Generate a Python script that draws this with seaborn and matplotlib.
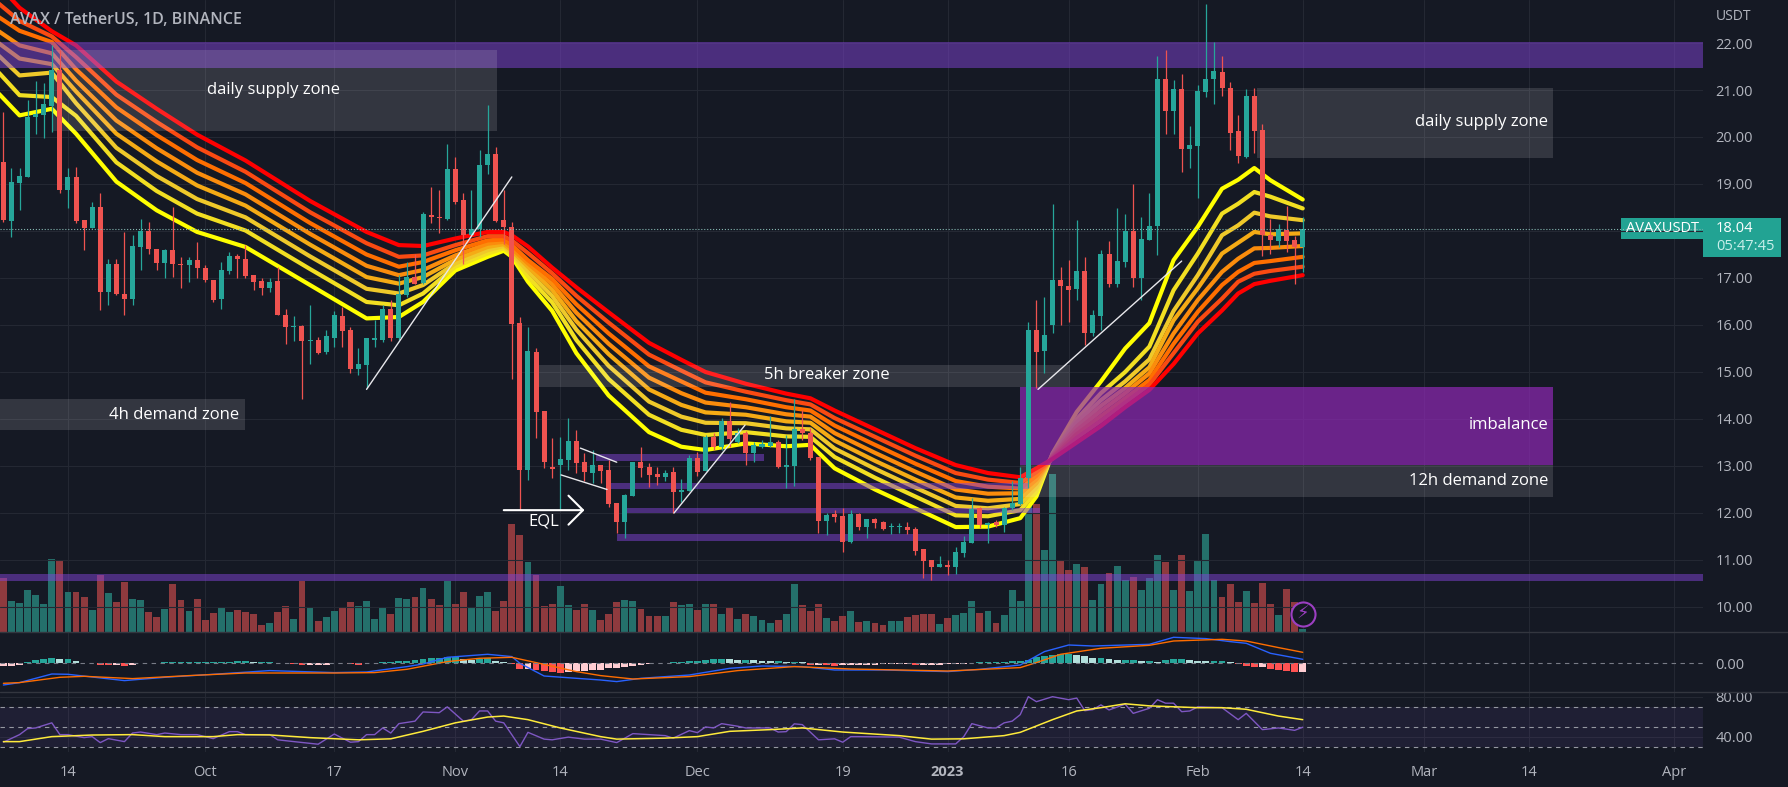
#!/usr/bin/env python3
import numpy as np
import pandas as pd
import matplotlib
matplotlib.use('Agg')
import matplotlib.pyplot as plt
from matplotlib.lines import Line2D
from matplotlib.patches import Rectangle
import seaborn as sns

BG = '#151924'
GRID = '#242833'
TXT = '#B2B5BE'
UP = '#26A69A'
DOWN = '#EF5350'

# candles, one per day from 6 Sep 2022
opens = [19.47,18.22,19.02,19.15,20.43,20.46,20.67,21.42,18.87,19.14,
         18.23,18.06,18.5,16.7,17.29,16.67,16.55,17.67,18.0,17.62,
         17.32,17.59,17.3,17.27,17.38,17.21,16.96,16.55,17.15,17.47,
         17.41,17.06,16.93,16.79,16.93,16.22,15.95,15.98,15.66,15.69,
         15.43,15.73,16.19,15.89,15.06,15.14,15.69,15.69,16.35,15.73,
         16.63,17.02,16.9,18.35,18.3,18.26,19.31,18.65,17.91,18.05,
         19.4,19.63,18.24,18.09,16.05,12.91,15.43,14.16,12.98,13.02,
         13.13,13.53,13.09,12.86,13.02,12.91,12.21,11.81,12.37,13.09,
         12.97,12.83,12.76,12.88,12.45,12.47,13.16,12.9,13.61,13.41,
         13.96,13.52,13.7,13.27,13.41,13.42,13.52,12.98,13.0,13.79,
         13.71,13.19,11.83,11.98,11.94,11.38,11.98,11.71,11.87,11.81,
         11.71,11.7,11.71,11.66,11.23,11.0,10.86,10.89,10.86,11.15,
         11.37,12.11,11.74,11.81,11.74,12.11,12.19,12.74,15.89,15.44,
         15.99,16.96,16.82,16.76,17.15,15.84,16.2,17.51,16.87,17.34,
         17.99,17.0,17.8,18.1,21.23,20.55,21.02,19.75,19.8,20.96,
         21.23,21.39,21.05,20.12,19.58,20.87,20.14,17.92,17.79,18.03,
         17.8,17.65]
highs = [20.53,19.33,19.33,20.78,21.2,21.14,21.95,21.85,19.33,19.36,
         18.23,18.62,18.8,17.41,17.41,17.97,17.91,18.26,18.19,17.62,
         17.62,18.51,17.45,17.45,17.77,17.27,16.96,17.34,17.55,17.52,
         17.7,17.06,16.99,16.99,17.24,16.35,16.19,16.0,16.42,15.75,
         15.89,16.3,16.38,15.96,15.5,15.72,16.1,16.42,16.53,17.06,
         17.34,17.52,18.41,18.94,18.87,19.86,19.58,18.8,18.88,19.72,
         20.68,19.79,18.87,18.19,16.18,15.96,15.51,14.16,13.6,13.61,
         14.02,13.77,13.27,13.34,13.02,13.13,12.21,12.4,13.09,13.41,
         13.06,12.98,12.91,12.98,12.72,13.23,13.3,13.66,13.7,14.02,
         14.37,13.8,13.74,13.52,13.55,14.06,13.55,13.66,14.43,14.19,
         13.81,13.19,12.0,12.06,12.11,12.06,12.0,11.87,11.9,11.84,
         11.79,11.79,11.81,11.71,11.23,11.0,11.09,11.0,11.28,11.51,
         12.32,12.13,11.81,11.85,12.13,12.67,12.98,16.07,16.53,16.6,
         18.58,17.24,17.38,18.23,17.45,16.32,17.59,17.79,18.48,18.36,
         18.99,18.3,18.81,21.72,21.86,21.21,21.34,20.23,21.1,22.82,
         22.02,21.72,21.17,20.46,21.03,21.05,20.27,18.26,18.14,18.53,
         17.9,18.3]
lows = [18.2,17.87,18.44,19.15,20.07,19.97,20.1,18.8,18.48,18.16,
        17.59,18.06,16.31,16.42,16.63,16.21,16.42,17.17,17.52,17.17,
        16.99,17.02,16.78,16.92,16.99,16.92,16.49,16.35,17.09,16.99,
        16.99,16.74,16.63,16.7,16.21,15.6,15.67,14.43,15.18,15.39,
        15.39,15.53,15.53,14.97,14.93,14.65,15.53,15.64,15.67,15.69,
        16.6,16.87,16.88,18.16,17.95,18.23,18.58,17.3,17.91,17.87,
        19.22,18.19,17.73,14.86,12.06,12.7,13.6,12.95,12.74,12.06,
        12.91,12.85,12.67,12.64,12.63,12.13,11.57,11.46,12.37,12.77,
        12.56,12.6,12.67,12.0,12.24,12.47,12.79,12.9,13.34,13.34,
        13.41,13.49,13.02,13.09,13.38,13.41,12.95,12.53,12.57,13.55,
        13.13,11.58,11.53,11.81,11.18,11.36,11.64,11.47,11.68,11.64,
        11.55,11.57,11.55,11.1,10.62,10.57,10.86,10.68,10.7,11.06,
        11.36,11.68,11.36,11.71,11.6,12.06,12.17,12.53,14.65,14.97,
        15.82,16.0,16.07,16.53,15.57,15.77,15.89,16.8,16.81,17.24,
        16.8,16.53,17.8,17.48,20.06,20.07,19.26,19.34,18.71,20.85,
        20.71,20.87,19.73,19.45,19.56,19.65,17.46,17.52,17.66,17.56,
        16.88,17.13]
closes = [18.23,19.04,19.16,20.43,20.5,20.71,21.42,18.87,19.14,18.22,
          18.06,18.5,16.7,17.29,16.67,16.55,17.69,18.0,17.61,17.32,
          17.59,17.29,17.27,17.38,17.21,16.95,16.53,17.16,17.46,17.41,
          17.04,16.92,16.79,16.92,16.21,15.96,15.98,15.66,15.69,15.41,
          15.76,16.21,15.87,15.06,15.16,15.72,15.72,16.35,15.73,16.65,
          17.02,16.88,18.37,18.29,18.27,19.31,18.62,17.91,18.05,19.4,
          19.63,18.22,18.09,16.03,12.91,15.45,14.14,13.09,12.94,13.14,
          13.53,13.07,12.88,13.02,12.89,12.19,11.81,12.38,13.09,12.95,
          12.81,12.76,12.86,12.45,12.49,13.17,12.88,13.61,13.41,13.96,
          13.57,13.7,13.27,13.44,13.47,13.5,12.97,13.02,13.79,13.7,
          13.17,11.83,11.96,11.92,11.38,11.98,11.7,11.87,11.79,11.66,
          11.72,11.72,11.64,11.19,10.98,10.86,10.91,10.86,11.17,11.39,
          12.09,11.74,11.79,11.74,12.11,12.21,12.74,15.89,15.43,15.79,
          16.96,16.82,16.74,17.15,15.84,16.21,17.51,16.88,17.36,17.99,
          17.0,17.82,18.1,21.23,20.55,21.02,19.75,19.83,20.98,21.24,
          21.4,21.05,20.09,19.6,20.87,20.13,17.92,17.8,18.04,17.79,
          17.66,18.04]
volumes = [54,31,29,42,37,28,73,71,40,40,
           35,22,57,39,30,50,33,32,20,15,
           23,48,32,21,33,12,19,24,20,22,
           20,18,7,9,20,26,13,51,25,11,
           15,21,24,30,26,31,13,24,18,34,
           33,35,44,33,27,51,28,40,24,36,
           40,21,31,108,97,70,57,26,28,46,
           27,22,28,22,12,18,30,32,31,23,
           16,16,16,30,27,28,22,28,28,18,
           24,13,18,16,12,9,12,18,48,27,
           21,28,14,11,16,21,10,11,9,7,
           11,11,15,17,18,18,8,14,17,19,
           31,19,21,9,17,42,31,126,128,82,
           158,72,62,68,65,32,48,59,66,52,
           55,42,54,77,70,42,77,41,72,98,
           52,35,48,30,41,29,49,28,17,43,
           30,3]

# EMA ribbon, fastest to slowest
ribbon_days = [-1,2,6,9,14,19,24,30,38,45,49,52,56,60,62,63,65,68,71,75,80,84,87,92,97,100,103,
               108,113,118,122,126,128,130,133,136,139,142,145,148,151,153,155,157,161]
ema1 = [21.0,20.46,20.6,20.07,19.05,18.44,17.98,17.66,16.85,16.14,16.17,16.49,17.16,17.45,17.58,17.45,16.92,16.3,15.4,14.5,13.72,13.41,13.34,13.48,13.42,13.45,12.95,12.5,12.1,11.7,11.71,11.89,12.35,13.27,14.15,14.8,15.5,16.04,17.38,18.09,18.9,19.09,19.34,19.08,18.67]
ema2 = [21.45,20.89,20.85,20.45,19.46,18.85,18.37,18.01,17.19,16.49,16.42,16.67,17.24,17.52,17.63,17.5,17.03,16.48,15.68,14.85,14.09,13.77,13.66,13.72,13.63,13.62,13.19,12.75,12.35,11.95,11.93,12.06,12.45,13.25,14.0,14.55,15.0,15.54,16.74,17.52,18.37,18.58,18.83,18.73,18.48]
ema3 = [21.8,21.31,21.37,20.72,19.77,19.17,18.68,18.29,17.46,16.77,16.67,16.85,17.31,17.59,17.68,17.54,17.14,16.62,15.9,15.13,14.37,14.05,13.92,13.91,13.8,13.78,13.37,12.94,12.54,12.15,12.1,12.19,12.54,13.24,13.93,14.4,14.8,15.27,16.3,17.06,17.91,18.12,18.39,18.31,18.23]
ema4 = [22.05,21.67,21.55,20.97,20.07,19.48,18.97,18.54,17.71,17.02,16.88,17.02,17.39,17.66,17.72,17.58,17.24,16.75,16.08,15.38,14.63,14.3,14.14,14.09,13.95,13.92,13.54,13.11,12.71,12.33,12.26,12.3,12.63,13.22,13.84,14.28,14.66,15.1,16.1,16.78,17.52,17.75,17.98,17.93,17.95]
ema5 = [22.3,21.95,21.78,21.2,20.35,19.76,19.24,18.78,17.94,17.26,17.06,17.17,17.48,17.73,17.77,17.63,17.31,16.87,16.26,15.6,14.88,14.55,14.35,14.25,14.1,14.05,13.7,13.28,12.88,12.5,12.41,12.42,12.71,13.2,13.76,14.17,14.55,14.97,15.82,16.53,17.13,17.41,17.63,17.64,17.68]
ema6 = [22.6,22.26,22.02,21.44,20.63,20.04,19.51,19.02,18.17,17.5,17.24,17.34,17.59,17.8,17.82,17.7,17.38,16.98,16.44,15.82,15.12,14.8,14.56,14.42,14.25,14.18,13.86,13.45,13.05,12.68,12.56,12.52,12.79,13.18,13.68,14.06,14.44,14.83,15.6,16.28,16.85,17.13,17.32,17.36,17.45]
ema7 = [22.9,22.47,22.14,21.7,20.9,20.32,19.78,19.26,18.4,17.74,17.45,17.48,17.7,17.89,17.89,17.8,17.53,17.1,16.62,16.05,15.37,15.03,14.78,14.58,14.4,14.31,14.02,13.62,13.22,12.85,12.71,12.64,12.87,13.16,13.6,13.96,14.35,14.73,15.4,16.07,16.56,16.92,17.09,17.15,17.24]
ema8 = [23.3,22.75,22.25,21.95,21.18,20.6,20.05,19.5,18.64,17.98,17.7,17.68,17.84,17.98,17.98,17.91,17.67,17.22,16.8,16.27,15.62,15.26,15.0,14.75,14.54,14.44,14.18,13.78,13.38,13.02,12.85,12.76,12.95,13.15,13.5,13.85,14.25,14.62,15.17,15.82,16.31,16.67,16.87,16.94,17.06]
ribbon_colors = ['#FFFF00','#F2DF22','#EFC92A','#F5AB15','#FB8C0C','#FF6E00','#FA4A12','#FF0000']

# MACD pane
macd_hist = [-3,-3,-2,1,3.5,4.5,5.5,4,4,2,
             .7,.5,-1.5,-2,-2,-2.2,-1.5,.3,.3,.5,
             1.5,1.5,1.5,1.5,1.5,1.5,1.5,1.5,1.5,2.5,
             2.5,1.5,1.5,1.5,.5,.3,-.5,-1.5,-1.5,-1.5,
             -1.5,.3,.3,-1,-1.5,.3,.7,1,1.3,2,
             2.5,3,4.5,5,5.5,6,6,4.5,3.5,4,
             5,2,1,-.7,-6,-6,-7,-8,-9,-9.5,
             -9,-8,-8,-7,-7,-5,-4.5,-4,-3,-1.7,
             -.3,.3,.5,1,1.5,2,2.5,3,4,4.5,
             4,3.5,3.5,3,2.5,2,2,1.5,1.5,1,
             -1.5,-1.5,-2,-2.5,-2,-2,-2,-2,-1.5,-1,
             -1,-1,-1,-1.5,-1.5,-1.5,-1.5,-1,-1,-.3,
             .5,1,1,1.3,1.8,2,2,3.5,6,7,
             8,9,9.5,8,7,5,5,4,3.5,3.5,
             3.5,2,2,1.5,3.5,4,4,3,2.5,2,
             2,2,1,-1,-3,-3.5,-3.5,-6,-7,-8,
             -8.5,-8.3]
macd_days = [0,2,6,8,15,20,26,33,41,45,50,52,55,60,63,64,67,71,74,76,79,85,90,94,99,103,109,117,121,126,129,132,135,142,145,149,152,154,157,161]
macd_line = [-21.7,-19.3,-10.7,-11,-17.3,-14,-11,-7.3,-9.3,-8.7,-3.3,-.7,6,9,6.7,0,-12.7,-15,-16.7,-18.3,-15,-11.7,-5,-2.7,-3.3,-6.7,-6.7,-8.3,-6,-1.7,11.7,18.3,17.3,19,26,24.7,21.7,20,10,4]
signal_days = [0,2,7,10,16,23,30,41,46,50,55,59,63,66,71,74,78,85,91,98,105,117,126,128,131,136,142,145,151,154,158,161]
signal_line = [-20,-19.3,-14,-13,-15.3,-12.3,-9.7,-9.7,-9.3,-6,1.7,5,6,.7,-8.3,-12.3,-15.7,-13.3,-7.3,-3.3,-5.7,-7.7,-4.3,.7,9,15,18,22.3,24,22.3,15.7,11]

# RSI pane
rsi_days = [0,2,3,4,6,7,8,10,11,12,13,15,16,17,19,20,22,24,26,28,29,30,33,34,36,39,41,43,44,45,46,47,48,49,51,52,54,55,57,58,59,60,61,62,64,65,67,68,70,72,74,76,78,82,83,85,86,87,88,89,91,92,95,96,97,98,99,101,103,104,105,106,111,113,115,118,119,120,122,123,124,125,126,127,128,130,132,133,134,135,136,137,139,140,142,143,144,145,146,147,148,151,153,154,156,158,160,161]
rsi_vals = [34.4,42,48,48.7,53.8,42,42,39,40,34,38,35,43.6,44.6,42,43.6,42,42,38,45,45,42,42,36.8,35,32.4,42.6,34.4,35,42,42,48.7,43.6,53,55.5,64.7,64,69.8,55.5,57,65.7,65.7,55.5,53.8,30,44.3,37.5,36.8,39.5,37.5,37.5,34,43,41,38.5,46,44,49.7,48.7,53,50.4,48.7,48.7,44.6,45,52.8,52,36.8,37.8,34.4,40,40,39.5,35,32.7,32.7,40,53,48.7,48.7,53.8,55.5,62,80,75,80,77,78.6,66,67,71.8,66.7,72.5,63.3,68.4,77,73.5,73.5,65,65.7,69.8,69,57,63.3,47,48.7,46.3,49.4]
rsi_ma_days = [0,2,6,11,16,20,26,29,33,38,44,48,52,56,60,62,65,69,74,76,82,86,90,95,99,104,111,115,119,124,126,130,133,136,139,142,148,151,154,158,161]
rsi_ma = [35,35,40,41.6,42,40,40,42,41.7,39,36.8,37.8,45.3,53.8,59.6,60.6,57,48.7,40,37.5,38.5,40,45.3,47,48.7,44.6,41,37.5,37.8,41,44.3,57,65.7,69,72.9,70.8,69,69,67.4,60.6,57]

price_ticks = [10,11,12,13,14,15,16,17,18,19,20,21,22]
time_ticks = [8,25,41,56,69,86,104,117,132,148,161,176,189,207]
time_labels = ['14','Oct','17','Nov','14','Dec','19','2023','16','Feb','14','Mar','14','Apr']

# drawn zones: left day, right day, low price, high price
band_left = [-1,-1,73.4,74.8,77.2,76]
band_right = [211,211,94.2,127,128.5,126.2]
band_low = [21.46,10.56,13.11,12.52,12.0,11.41]
band_high = [22.02,10.70,13.25,12.63,12.11,11.55]
grey_left = [6,155.3,-1,66.4,126]
grey_right = [61.2,192,30,132.2,192]
grey_low = [20.13,19.56,13.77,14.67,12.35]
grey_high = [21.85,21.05,14.43,15.15,13.02]

# trend lines: day, price, day, price
trend_lines = [(45,14.63,63,19.15),(83.1,12.0,91.9,13.87),(71.5,13.38,76,13.08),
               (69.1,12.81,74.8,12.5),(128.2,14.63,146,17.36)]

W, H = 1788, 787
sns.set_theme(style='dark', rc={'figure.facecolor': BG, 'axes.facecolor': BG, 'savefig.facecolor': BG,
                                'patch.force_edgecolor': False})
plt.rcParams['font.family'] = ['Open Sans', 'DejaVu Sans']

fig = plt.figure(figsize=(W / 100, H / 100), dpi=100)


def pane(top, bottom):
    return fig.add_axes([0, 1 - bottom / H, 1703 / W, (bottom - top) / H])


vol_ax = pane(0, 631.7)
ax = vol_ax.twinx()
macd_ax = pane(632, 691.7)
rsi_ax = pane(691.7, 752)
ax.set_zorder(vol_ax.get_zorder() + 1)
ax.patch.set_visible(False)

days = np.arange(len(opens))
opens_a, closes_a = np.array(opens), np.array(closes)
is_up = closes_a >= opens_a

# volume
vol_df = pd.DataFrame({'day': days, 'vol': volumes, 'side': np.where(is_up, 'up', 'down')})
sns.barplot(data=vol_df, x='day', y='vol', hue='side', palette={'up': '#24706B', 'down': '#8E3A3E'},
            native_scale=True, dodge=False, width=0.85, saturation=1, errorbar=None, legend=False,
            linewidth=0, edgecolor='none', ax=vol_ax)
vol_ax.set_ylim(0, 631.7)

# ribbon
rib_df = pd.DataFrame({'day': ribbon_days, 'ema1': ema1, 'ema2': ema2, 'ema3': ema3, 'ema4': ema4,
                       'ema5': ema5, 'ema6': ema6, 'ema7': ema7, 'ema8': ema8})
rib_long = rib_df.melt(id_vars='day', var_name='ema', value_name='price')
sns.lineplot(data=rib_long, x='day', y='price', hue='ema', palette=ribbon_colors, linewidth=3,
             estimator=None, errorbar=None, legend=False, zorder=2, ax=ax)

# zones
for x0, x1, lo, hi in zip(band_left, band_right, band_low, band_high):
    ax.add_patch(Rectangle((x0, lo), x1 - x0, hi - lo, facecolor='#8143D6', alpha=0.5, edgecolor='none', zorder=3))
for x0, x1, lo, hi in zip(grey_left, grey_right, grey_low, grey_high):
    ax.add_patch(Rectangle((x0, lo), x1 - x0, hi - lo, facecolor='#FFFFFF', alpha=0.13, edgecolor='none', zorder=3))
ax.add_patch(Rectangle((126, 13.02), 66, 1.65, facecolor='#8F28B5', alpha=0.7, edgecolor='none', zorder=3))

# candles
colors = np.where(is_up, UP, DOWN)
ax.vlines(days, lows, highs, colors=colors, linewidth=0.9, zorder=4)
ax.bar(days, np.abs(closes_a - opens_a), bottom=np.minimum(opens_a, closes_a), width=0.62, color=colors,
       linewidth=0, edgecolor='none', zorder=4)

ax.axhline(18.04, color='#86b8b2', linewidth=0.8, linestyle=':', zorder=4)

for x0, p0, x1, p1 in trend_lines:
    sns.lineplot(x=[x0, x1], y=[p0, p1], color='#E8E8EC', linewidth=1, estimator=None, errorbar=None, zorder=5, ax=ax)
ax.annotate('', xy=(72, 12.06), xytext=(62, 12.06), zorder=5,
            arrowprops=dict(arrowstyle='->,head_length=0.87,head_width=0.87', color='white', lw=1.5,
                            shrinkA=0, shrinkB=0))

zone_font = dict(color='white', fontsize=12, fontweight='medium', va='center', zorder=6)
ax.text(33.5, 21.0, 'daily supply zone', ha='center', **zone_font)
ax.text(191.4, 20.32, 'daily supply zone', ha='right', **zone_font)
ax.text(21.2, 14.09, '4h demand zone', ha='center', **zone_font)
ax.text(102, 14.94, '5h breaker zone', ha='center', **zone_font)
ax.text(191.4, 13.87, 'imbalance', ha='right', **zone_font)
ax.text(191.4, 12.68, '12h demand zone', ha='right', **zone_font)
ax.text(67, 11.81, 'EQL', ha='center', **zone_font)

ax.scatter([161], [9.85], s=300, facecolor=BG, edgecolor='#9C3FC2', linewidth=1.5, zorder=6)
ax.text(161, 9.85, '\u26a1', color='#9C3FC2', fontsize=13, ha='center', va='center',
        family=['DejaVu Sans'], zorder=7)

# MACD
hist = np.array(macd_hist)
prev = np.r_[hist[0], hist[:-1]]
hist_kind = np.where(hist >= 0, np.where(hist >= prev, 'up_more', 'up_less'),
                     np.where(hist < prev, 'down_more', 'down_less'))
hist_df = pd.DataFrame({'day': days, 'hist': hist, 'kind': hist_kind})
sns.barplot(data=hist_df, x='day', y='hist', hue='kind',
            palette={'up_more': '#26A69A', 'up_less': '#B2DFDB', 'down_more': '#FF5252', 'down_less': '#FFCDD2'},
            native_scale=True, dodge=False, width=0.85, saturation=1, errorbar=None, legend=False,
            linewidth=0, edgecolor='none', ax=macd_ax)
sns.lineplot(x=macd_days, y=macd_line, color='#2962FF', linewidth=1, estimator=None, errorbar=None, ax=macd_ax)
sns.lineplot(x=signal_days, y=signal_line, color='#FF6D00', linewidth=1, estimator=None, errorbar=None, ax=macd_ax)
macd_ax.axhline(0, color='#787B86', linewidth=0.8, linestyle=(0, (4, 4)))
macd_ax.set_ylim(-28.4, 31.3)

# RSI
rsi_ax.axhspan(30, 70, facecolor='#7E57C2', alpha=0.1, edgecolor='none')
for level in [70, 50, 30]:
    rsi_ax.axhline(level, color='#9598A1', linewidth=0.8, linestyle=(0, (4, 4)))
sns.lineplot(x=rsi_days, y=rsi_vals, color='#7E57C2', linewidth=1, estimator=None, errorbar=None, ax=rsi_ax)
sns.lineplot(x=rsi_ma_days, y=rsi_ma, color='#FFEB3B', linewidth=1.1, estimator=None, errorbar=None, ax=rsi_ax)
rsi_ax.set_ylim(24.6, 85)

# axes
for a in [vol_ax, ax, macd_ax, rsi_ax]:
    a.set_xlim(-0.42, 210.6)
    a.set_xlabel('')
    a.set_ylabel('')
    for s in a.spines.values():
        s.set_visible(False)
    a.set_xticks(time_ticks)
    a.tick_params(length=0)
    a.grid(True, axis='x', color=GRID, linewidth=0.8)
    a.set_axisbelow(True)
vol_ax.set_xticklabels([])
vol_ax.set_yticks([])
ax.set_xticklabels([])
macd_ax.set_xticklabels([])

ax.set_ylim(9.474, 22.915)
ax.set_yticks(price_ticks)
ax.set_yticklabels(['' if t == 18 else f'{t:.2f}' for t in price_ticks], color=TXT, fontsize=10.5)
ax.yaxis.tick_right()
ax.grid(True, axis='y', color=GRID, linewidth=0.8)
ax.tick_params(axis='y', pad=9)

macd_ax.set_yticks([0])
macd_ax.set_yticklabels(['0.00'], color=TXT, fontsize=10.5)
macd_ax.yaxis.tick_right()
macd_ax.tick_params(axis='y', pad=9)

rsi_ax.set_yticks([40, 80])
rsi_ax.set_yticklabels(['40.00', '80.00'], color=TXT, fontsize=10.5)
rsi_ax.yaxis.tick_right()
rsi_ax.grid(True, axis='y', color=GRID, linewidth=0.8)
rsi_ax.tick_params(axis='y', pad=9)
rsi_ax.set_xticklabels(time_labels, color=TXT, fontsize=10.5)
rsi_ax.tick_params(axis='x', pad=9)
rsi_ax.get_xticklabels()[7].set_fontweight('bold')

# pane separators
for y in [631.7, 691.7]:
    fig.add_artist(Line2D([0, 1], [1 - y / H] * 2, color='#33363F', linewidth=1))


def tag(x0, x1, y0, y1):
    fig.add_artist(Rectangle((x0 / W, 1 - y1 / H), (x1 - x0) / W, (y1 - y0) / H, facecolor='#22A393',
                             edgecolor='none', transform=fig.transFigure))


tag(1621, 1702.5, 218, 239)
tag(1702.5, 1781, 218, 257)
fig.text(1662 / W, 1 - 229 / H, 'AVAXUSDT', color='white', fontsize=10.5, ha='center', va='center')
fig.text(1716 / W, 1 - 229 / H, '18.04', color='white', fontsize=10.5, ha='left', va='center')
fig.text(1716 / W, 1 - 247 / H, '05:47:45', color='#C9EFEA', fontsize=10.5, ha='left', va='center')
fig.text(1716 / W, 1 - 16 / H, 'USDT', color=TXT, fontsize=10, ha='left', va='center')
fig.text(10 / W, 1 - 20 / H, 'AVAX / TetherUS, 1D, BINANCE', color=TXT, fontsize=11.5, fontweight='semibold',
         ha='left', va='center')

fig.savefig('out.png', dpi=100)
